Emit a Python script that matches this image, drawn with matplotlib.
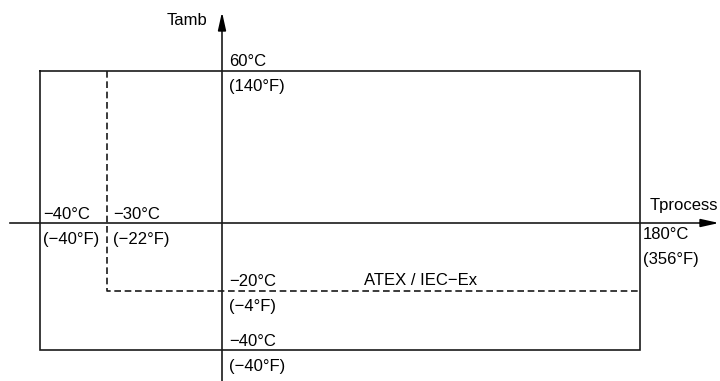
import numpy as np
import matplotlib
matplotlib.use('Agg')
import matplotlib.pyplot as plt

plt.rcParams['font.family'] = ['Liberation Sans Narrow', 'Liberation Sans', 'DejaVu Sans']

# temperature limits (°C)
t_process_min = -40
t_process_atex = -30
t_process_max = 180
t_amb_max = 60
t_amb_atex = -20
t_amb_min = -40

# labels
lbl_amb_max = ['60°C', '(140°F)']
lbl_amb_atex = ['\u221220°C', '(\u22124°F)']
lbl_amb_min = ['\u221240°C', '(\u221240°F)']
lbl_proc_min = ['\u221240°C', '(\u221240°F)']
lbl_proc_atex = ['\u221230°C', '(\u221222°F)']
lbl_proc_max = ['180°C', '(356°F)']
zone_label = 'ATEX / IEC\u2212Ex'

# schematic (not to scale) axes: piecewise mapping value -> pixel
x_anchor_val = [-40, -30, 0, 180]
x_anchor_px = [40, 107, 222, 640]
y_anchor_val = [-40, -20, 0, 60]
y_anchor_px = [350, 291, 223, 71]


def px(v):
    return float(np.interp(v, x_anchor_val, x_anchor_px))


def py(v):
    return float(np.interp(v, y_anchor_val, y_anchor_px))


fig = plt.figure(figsize=(7.2, 3.81), dpi=100)
ax = fig.add_axes([0, 0, 1, 1])
ax.set_xlim(0, 720)
ax.set_ylim(381, 0)
ax.axis('off')

lw = 1.2
col = '#1a1a1a'

# full range rectangle
xs = [px(t_process_min), px(t_process_max), px(t_process_max), px(t_process_min), px(t_process_min)]
ys = [py(t_amb_max), py(t_amb_max), py(t_amb_min), py(t_amb_min), py(t_amb_max)]
ax.plot(xs, ys, color=col, lw=lw, solid_joinstyle='miter')

# ATEX / IEC-Ex range (dashed)
ax.plot([px(t_process_atex), px(t_process_atex), px(t_process_max)],
        [py(t_amb_max), py(t_amb_atex), py(t_amb_atex)],
        color=col, lw=lw, dashes=(4, 2.2))

# axes with arrows
x0, y0 = px(0), py(0)
ax.plot([x0, x0], [381, 25], color=col, lw=lw)
ax.annotate('', xy=(x0, 12), xytext=(x0, 30),
            arrowprops=dict(arrowstyle='-|>,head_length=0.9,head_width=0.2',
                            mutation_scale=12, color='k', lw=lw, shrinkA=0, shrinkB=0))
ax.plot([10, 705], [y0, y0], color=col, lw=lw)
ax.annotate('', xy=(719, y0), xytext=(700, y0),
            arrowprops=dict(arrowstyle='-|>,head_length=0.9,head_width=0.2',
                            mutation_scale=12, color='k', lw=lw, shrinkA=0, shrinkB=0))

fs = 12
ax.text(207, 25, 'Tamb', fontsize=fs, ha='right', va='baseline')
ax.text(718, 210, 'Tprocess', fontsize=fs, ha='right', va='baseline')


def pair(x, y_top, labels):
    ax.text(x, y_top, labels[0], fontsize=fs, ha='left', va='baseline')
    ax.text(x, y_top + 25, labels[1], fontsize=fs, ha='left', va='baseline')


pair(x0 + 7, py(t_amb_max) - 5, lbl_amb_max)
pair(x0 + 7, py(t_amb_atex) - 5, lbl_amb_atex)
pair(x0 + 7, py(t_amb_min) - 4, lbl_amb_min)
pair(px(t_process_min) + 3, y0 - 4, lbl_proc_min)
pair(px(t_process_atex) + 6, y0 - 4, lbl_proc_atex)
pair(px(t_process_max) + 3, y0 + 16, lbl_proc_max)
ax.text(364, py(t_amb_atex) - 6, zone_label, fontsize=fs, ha='left', va='baseline')

fig.savefig('out.png', dpi=100)
